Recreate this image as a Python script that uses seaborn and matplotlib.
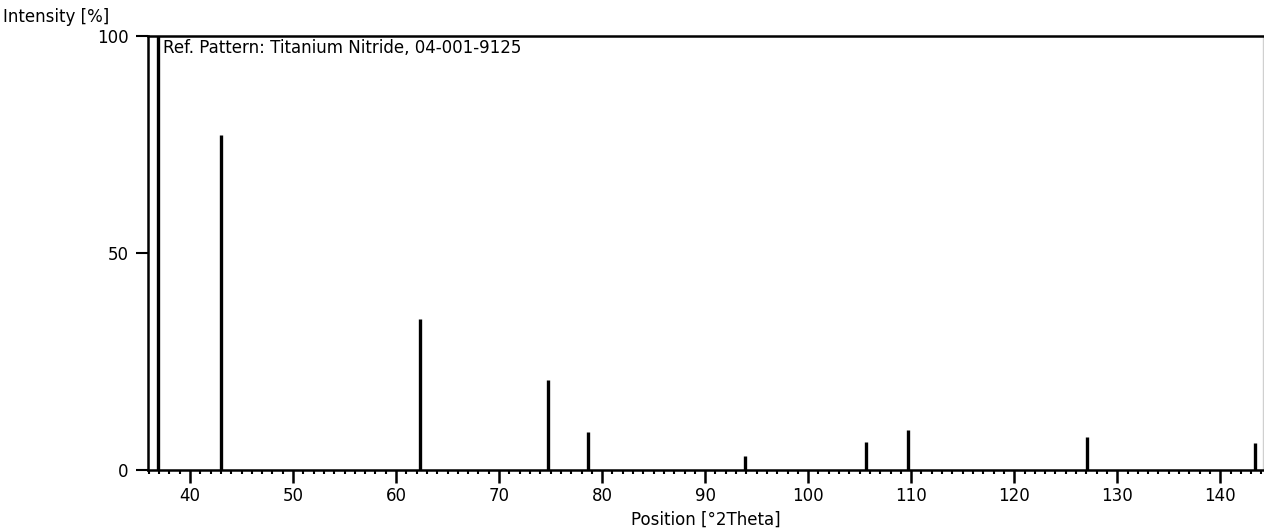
import numpy as np
import pandas as pd
import matplotlib
matplotlib.use("Agg")
import matplotlib.pyplot as plt
import seaborn as sns
from matplotlib.ticker import MultipleLocator, FixedLocator

# Data: reference pattern peaks (position in degrees 2Theta, relative intensity %)
positions = [36.89, 42.98, 62.32, 74.78, 78.60, 93.90, 105.60, 109.66, 127.10, 143.40]
intensities = [100.0, 77.2, 34.8, 20.7, 8.7, 3.3, 6.4, 9.2, 7.5, 6.2]
x_ticks = [40, 50, 60, 70, 80, 90, 100, 110, 120, 130, 140]
y_ticks = [0, 50, 100]
title_text = "Ref. Pattern: Titanium Nitride, 04-001-9125"
x_label = "Position [°2Theta]"
y_label = "Intensity [%]"

df = pd.DataFrame({"position": positions, "intensity": intensities})

sns.set_theme(style="ticks")
plt.rcParams["font.family"] = ["DejaVu Sans"]

W, H = 1264, 532
fig = plt.figure(figsize=(W / 100, H / 100), dpi=100)
left_px, right_px, top_px, bottom_px = 148, 1263, 36, 470
ax = fig.add_axes([left_px / W, 1 - bottom_px / H,
                   (right_px - left_px) / W, (bottom_px - top_px) / H])

ax.vlines(df["position"], 0, df["intensity"], color="black", linewidth=2.4)

ax.set_xlim(35.92, 144.15)
ax.set_ylim(0, 100)

ax.xaxis.set_major_locator(FixedLocator(x_ticks))
ax.xaxis.set_minor_locator(MultipleLocator(1))
ax.yaxis.set_major_locator(FixedLocator(y_ticks))
ax.set_xticklabels([str(t) for t in x_ticks])
ax.set_yticklabels([str(t) for t in y_ticks])

ax.tick_params(axis="x", which="major", direction="out", length=9, width=1.8,
               color="black", labelsize=12, pad=3, labelcolor="black")
ax.tick_params(axis="x", which="minor", direction="out", length=3, width=1.5,
               color="black")
ax.tick_params(axis="y", which="major", direction="out", length=9, width=1.5,
               color="black", labelsize=12, pad=5, labelcolor="black")

for s in ["left", "bottom", "top"]:
    ax.spines[s].set_color("black")
    ax.spines[s].set_linewidth(1.8)
ax.spines["right"].set_color("#d0d0d0")
ax.spines["right"].set_linewidth(1.0)
ax.grid(False)
ax.set_facecolor("white")

ax.text(0.0135, 0.993, title_text, transform=ax.transAxes, ha="left", va="top",
        fontsize=12, color="black")

ax.set_xlabel(x_label, fontsize=12, color="black", va="center")
ax.xaxis.set_label_coords(0.5, (bottom_px - 520) / (bottom_px - top_px))
ax.set_ylabel(y_label, fontsize=12, color="black", rotation=0, ha="left", va="top")
ax.yaxis.set_label_coords((3 - left_px) / (right_px - left_px),
                          (bottom_px - 8) / (bottom_px - top_px))

fig.savefig("out.png", dpi=100, facecolor="white")
